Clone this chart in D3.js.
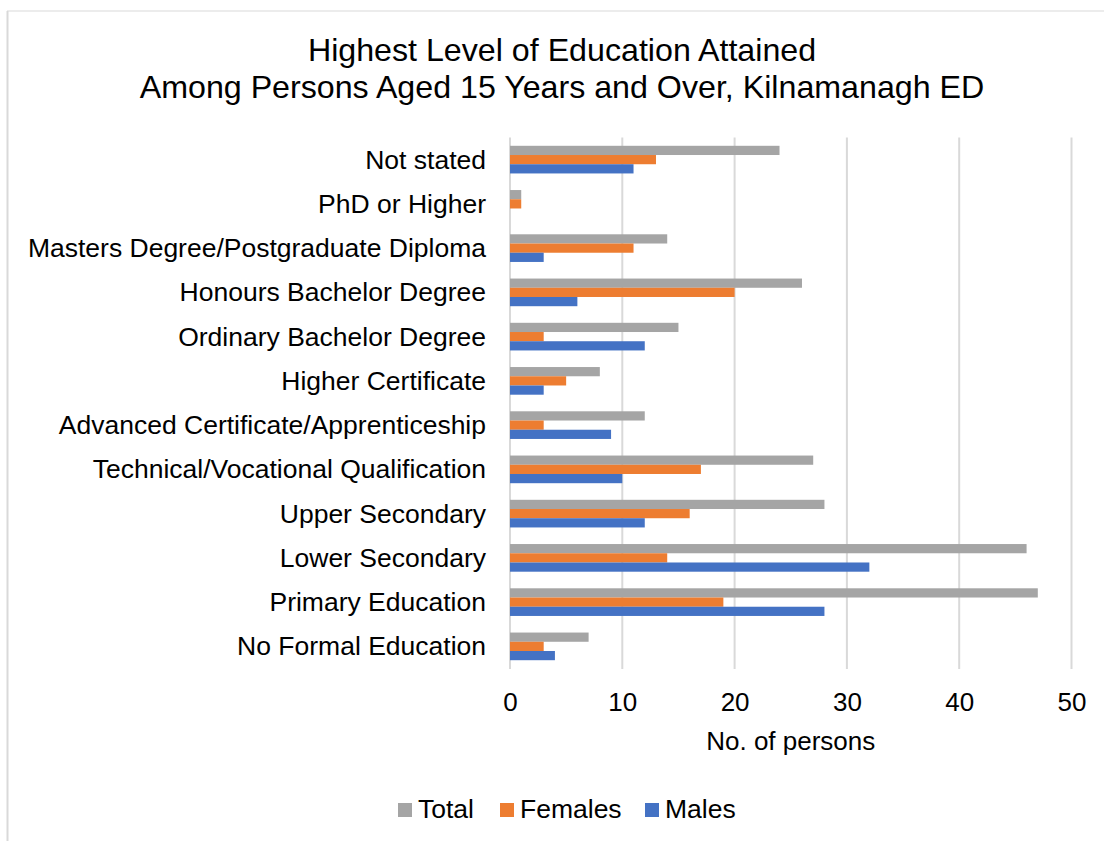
<!DOCTYPE html>
<html>
<head>
<meta charset="utf-8">
<script src="https://cdn.jsdelivr.net/npm/d3@7"></script>
<style>
  html, body { margin: 0; padding: 0; background: #ffffff; }
  svg { display: block; font-family: "Liberation Sans", Arial, sans-serif; }
</style>
</head>
<body>
<svg id="chart" width="1104" height="841"></svg>
<script>
// Education categories, listed top to bottom
const categories = [
  "Not stated",
  "PhD or Higher",
  "Masters Degree/Postgraduate Diploma",
  "Honours Bachelor Degree",
  "Ordinary Bachelor Degree",
  "Higher Certificate",
  "Advanced Certificate/Apprenticeship",
  "Technical/Vocational Qualification",
  "Upper Secondary",
  "Lower Secondary",
  "Primary Education",
  "No Formal Education"
];

const seriesNames = ["Total", "Females", "Males"];
const totalValues   = [24, 1, 14, 26, 15, 8, 12, 27, 28, 46, 47, 7];
const femaleValues  = [13, 1, 11, 20, 3, 5, 3, 17, 16, 14, 19, 3];
const maleValues    = [11, 0, 3, 6, 12, 3, 9, 10, 12, 32, 28, 4];
const xTicks = [0, 10, 20, 30, 40, 50];
const seriesColors = ["#a5a5a5", "#ed7d31", "#4472c4"];

const titleLines = [
  "Highest Level of Education Attained",
  "Among Persons Aged 15 Years and Over, Kilnamanagh ED"
];
const xAxisTitle = "No. of persons";

const valuesBySeries = [totalValues, femaleValues, maleValues];
const rows = categories.map((c, i) => ({
  category: c,
  values: seriesNames.map((s, k) => ({ series: s, value: valuesBySeries[k][i] }))
}));

const svg = d3.select("#chart");

// Outer frame
svg.append("line").attr("x1", 7.5).attr("x2", 7.5).attr("y1", 11).attr("y2", 841)
  .attr("stroke", "#d9d9d9").attr("stroke-width", 2);
svg.append("line").attr("x1", 7).attr("x2", 1104).attr("y1", 11).attr("y2", 11)
  .attr("stroke", "#d9d9d9").attr("stroke-width", 1.2);

const plot = { left: 510, right: 1071.5, top: 137.5, bottom: 668.5 };

const x = d3.scaleLinear().domain([0, 50]).range([plot.left, plot.right]);
const y = d3.scaleBand().domain(categories).range([plot.top, plot.bottom]).paddingInner(0).paddingOuter(0);
const bw = y.bandwidth();
const groupH = bw * 0.625;
const ySub = d3.scaleBand().domain(seriesNames)
  .range([(bw - groupH) / 2, (bw + groupH) / 2]);

// Title
svg.append("g").selectAll("text").data(titleLines).join("text")
  .attr("x", 562).attr("y", (d, i) => 61 + i * 37)
  .attr("text-anchor", "middle")
  .attr("font-size", 32.2).attr("fill", "#000")
  .text(d => d);

// Vertical gridlines
svg.append("g").selectAll("line").data(xTicks).join("line")
  .attr("x1", d => x(d)).attr("x2", d => x(d))
  .attr("y1", plot.top).attr("y2", plot.bottom + 0.5)
  .attr("stroke", "#d9d9d9").attr("stroke-width", 2);

// Bars
const groups = svg.append("g").selectAll("g").data(rows).join("g")
  .attr("transform", d => `translate(0,${y(d.category)})`);
groups.selectAll("rect").data(d => d.values).join("rect")
  .attr("x", x(0))
  .attr("y", d => ySub(d.series))
  .attr("width", d => x(d.value) - x(0))
  .attr("height", ySub.bandwidth())
  .attr("fill", (d, i) => seriesColors[i]);

// Category labels
const yAxis = d3.axisLeft(y).tickSize(0).tickPadding(24);
const yg = svg.append("g").attr("transform", `translate(${plot.left},0)`).call(yAxis);
yg.select(".domain").remove();
yg.selectAll("text").attr("font-size", 26.5).attr("fill", "#000")
  .attr("font-family", "'Liberation Sans', Arial, sans-serif")
  .attr("dy", "0.34em");

// X tick labels
const xAxis = d3.axisBottom(x).tickValues(xTicks).tickSize(0).tickPadding(0);
const xg = svg.append("g").attr("transform", `translate(0,${plot.bottom})`).call(xAxis);
xg.select(".domain").remove();
xg.selectAll("text").attr("font-size", 26).attr("fill", "#000")
  .attr("font-family", "'Liberation Sans', Arial, sans-serif")
  .attr("dy", null).attr("y", 42);

// X axis title
svg.append("text")
  .attr("x", (plot.left + plot.right) / 2).attr("y", 750)
  .attr("text-anchor", "middle").attr("font-size", 26).attr("fill", "#000")
  .text(xAxisTitle);

// Legend
const legendX = [398, 500, 645];
const legend = svg.append("g").selectAll("g").data(seriesNames).join("g")
  .attr("transform", (d, i) => `translate(${legendX[i]},803)`);
legend.append("rect").attr("width", 14).attr("height", 14)
  .attr("fill", (d, i) => seriesColors[i]);
legend.append("text").attr("x", 20).attr("y", 15)
  .attr("font-size", 26.5).attr("fill", "#000").text(d => d);
</script>
</body>
</html>
